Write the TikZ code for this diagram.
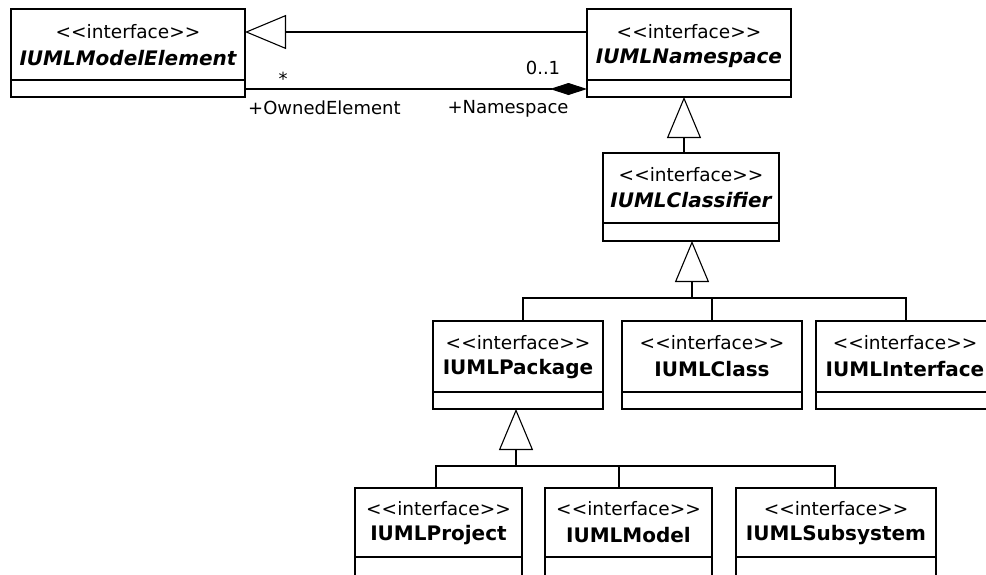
\documentclass[tikz,border=0pt]{standalone}
\usepackage{fontspec}
\newfontfamily\umlfont{DejaVu Sans}
\usetikzlibrary{arrows.meta}
\begin{document}
\begin{tikzpicture}[x=1pt,y=-1pt,
  box/.style={draw, line width=1.1pt, inner sep=0pt, outer sep=0pt, minimum height=88pt, anchor=north west},
  stereo/.style={font=\umlfont\fontsize{18.5}{20}\selectfont, inner sep=0pt},
  cname/.style={font=\umlfont\bfseries\fontsize{20}{22}\selectfont, inner sep=0pt},
  iname/.style={font=\umlfont\bfseries\itshape\fontsize{20}{22}\selectfont, inner sep=0pt},
  lbl/.style={font=\umlfont\fontsize{18}{20}\selectfont, inner sep=0pt},
  conn/.style={line width=1.1pt},
  gen/.style={conn, -{Triangle[open, length=41pt, width=34pt]}},
  comp/.style={conn, -{Diamond[length=37pt, width=12pt]}}
]
\fill[white] (0,0) rectangle (986,574);
\useasboundingbox (0,0) rectangle (986,574);

% boxes
\node[box, minimum width=234pt] (me) at (11,9) {};
\node[box, minimum width=204pt] (ns) at (587,9) {};
\node[box, minimum width=176pt] (cl) at (603,153) {};
\node[box, minimum width=170pt] (pk) at (433,321) {};
\node[box, minimum width=180pt] (cs) at (622,321) {};
\node[box, minimum width=178pt] (ifc) at (816,321) {};
\node[box, minimum width=167pt] (pj) at (355,488) {};
\node[box, minimum width=167pt] (md) at (545,488) {};
\node[box, minimum width=200pt] (ss) at (736,488) {};

% dividers
\foreach \b in {me,ns,pk,cs,ifc}
  \draw[conn] ([yshift=17pt]\b.south west) -- ([yshift=17pt]\b.south east);
\draw[conn] ([yshift=18pt]cl.south west) -- ([yshift=18pt]cl.south east);
\foreach \b in {pj,md,ss}
  \draw[conn] ([yshift=19pt]\b.south west) -- ([yshift=19pt]\b.south east);

% texts
\node[stereo] (me-s) at (128,32) {<<interface>>};
\node[iname] (me-n) at (128,58) {IUMLModelElement};
\node[stereo] (ns-s) at (689,32) {<<interface>>};
\node[iname] (ns-n) at (689,58) {IUMLNamespace};
\node[stereo] (cl-s) at (691,175) {<<interface>>};
\node[iname] (cl-n) at (691,200) {IUMLClassifier};
\node[stereo] (pk-s) at (518,343) {<<interface>>};
\node[cname] (pk-n) at (518,369) {IUMLPackage};
\node[stereo] (cs-s) at (712,343) {<<interface>>};
\node[cname] (cs-n) at (712,369) {IUMLClass};
\node[stereo] (ifc-s) at (905,343) {<<interface>>};
\node[cname] (ifc-n) at (905,369) {IUMLInterface};
\node[stereo] (pj-s) at (438.5,509) {<<interface>>};
\node[cname] (pj-n) at (438.5,535) {IUMLProject};
\node[stereo] (md-s) at (628.5,509) {<<interface>>};
\node[cname] (md-n) at (628.5,535) {IUMLModel};
\node[stereo] (ss-s) at (836,509) {<<interface>>};
\node[cname] (ss-n) at (836,535) {IUMLSubsystem};

% association labels
\node[lbl] (star) at (283,79) {*};
\node[lbl] (mult) at (543,68) {0..1};
\node[lbl, anchor=west] (owned) at (248,108) {+OwnedElement};
\node[lbl] (nsrole) at (508,109) {+Namespace};

% connectors
\draw[gen] ([yshift=21pt]ns.west) -- ([yshift=21pt]me.east);
\draw[comp] ([yshift=-36pt]me.east) -- ([yshift=-36pt]ns.west);
\draw[gen] ([xshift=-7pt]cl.north) -- ([xshift=-5pt]ns.south);

\coordinate (j1) at (692,298);
\draw[gen] (j1) -- (cl.south -| j1);
\draw[conn] ([xshift=5pt]pk.north) |- (j1) -| ([xshift=1pt]ifc.north);
\draw[conn] (cs.north) |- (j1);

\coordinate (j2) at (516,466);
\draw[gen] (j2) -- (pk.south -| j2);
\draw[conn] ([xshift=-2.5pt]pj.north) |- (j2) -| ([xshift=-1pt]ss.north);
\draw[conn] ([xshift=-9.5pt]md.north) |- (j2);
\end{tikzpicture}
\end{document}
